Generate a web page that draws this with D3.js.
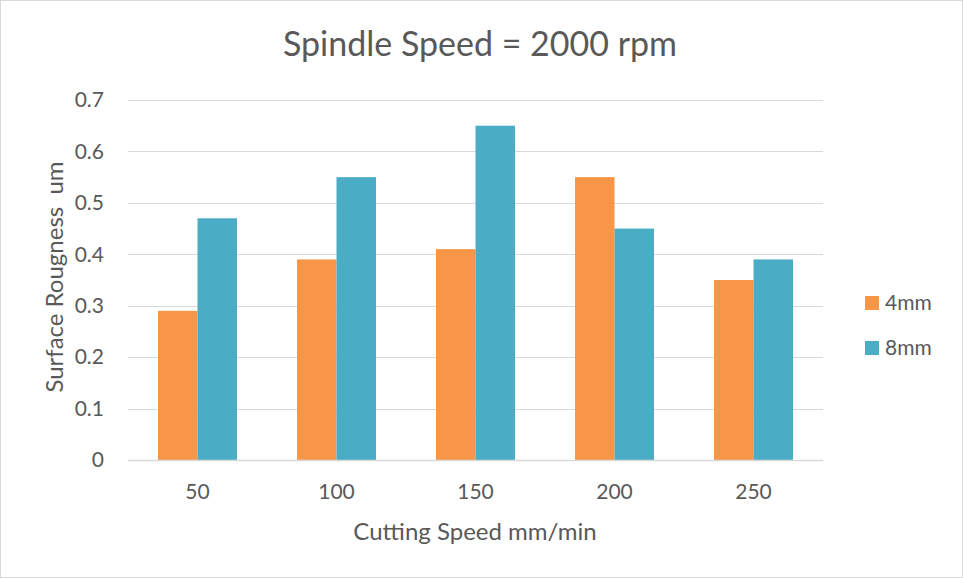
<!DOCTYPE html>
<html>
<head>
<meta charset="utf-8">
<script src="https://cdn.jsdelivr.net/npm/d3@7"></script>
<style>
  body { margin: 0; background: #fff; }
  svg text { font-family: Lato, "Open Sans", sans-serif; fill: #595959; }
</style>
</head>
<body>
<svg id="chart" width="963" height="578"></svg>
<script>
const categories = ["50", "100", "150", "200", "250"];
const seriesNames = ["4mm", "8mm"];
const values4mm = [0.29, 0.39, 0.41, 0.55, 0.35];
const values8mm = [0.47, 0.55, 0.65, 0.45, 0.39];
const yTicks = [0, 0.1, 0.2, 0.3, 0.4, 0.5, 0.6, 0.7];
const colors = ["#F79646", "#4BACC6"];

const svg = d3.select("#chart");
const margin = {top: 100, left: 128, right: 140, bottom: 118};
const width = 963, height = 578;

svg.append("rect")
    .attr("x", 0.5).attr("y", 0.5)
    .attr("width", width - 1).attr("height", height - 1)
    .attr("fill", "#fff")
    .attr("stroke", "#d9d9d9");

const x = d3.scaleBand()
    .domain(categories)
    .range([margin.left, width - margin.right])
    .paddingInner(0.4318)
    .paddingOuter(0.2159);

const x1 = d3.scaleBand()
    .domain(seriesNames)
    .range([0, x.bandwidth()]);

const y = d3.scaleLinear()
    .domain([0, 0.7])
    .range([height - margin.bottom, margin.top]);

// gridlines
svg.append("g")
    .selectAll("line")
    .data(yTicks.slice(1))
    .join("line")
    .attr("x1", margin.left)
    .attr("x2", width - margin.right)
    .attr("y1", d => Math.round(y(d)) + 0.5)
    .attr("y2", d => Math.round(y(d)) + 0.5)
    .attr("stroke", "#d9d9d9")
    .attr("stroke-width", 1);

const rows = categories.map((c, i) => ({cat: c, vals: [values4mm[i], values8mm[i]]}));

const groups = svg.append("g")
    .selectAll("g")
    .data(rows)
    .join("g")
    .attr("transform", d => `translate(${x(d.cat)},0)`);

groups.selectAll("rect")
    .data(d => d.vals.map((v, i) => ({key: seriesNames[i], v, i})))
    .join("rect")
    .attr("x", d => x1(d.key))
    .attr("width", x1.bandwidth())
    .attr("y", d => y(d.v))
    .attr("height", d => y(0) - y(d.v))
    .attr("fill", d => colors[d.i]);

// x axis line
svg.append("line")
    .attr("x1", margin.left)
    .attr("x2", width - margin.right)
    .attr("y1", Math.round(y(0)) + 0.5)
    .attr("y2", Math.round(y(0)) + 0.5)
    .attr("stroke", "#d9d9d9")
    .attr("stroke-width", 1.5);

// y tick labels
svg.append("g")
    .selectAll("text")
    .data(yTicks)
    .join("text")
    .attr("x", 104)
    .attr("y", d => y(d))
    .attr("dy", "0.35em")
    .attr("text-anchor", "end")
    .style("font-size", "21px")
    .text(d => d === 0 ? "0" : d3.format(".1f")(d));

// x tick labels
svg.append("g")
    .selectAll("text")
    .data(categories)
    .join("text")
    .attr("x", d => x(d) + x.bandwidth() / 2)
    .attr("y", 499)
    .attr("text-anchor", "middle")
    .style("font-size", "21px")
    .text(d => d);

// title
svg.append("text")
    .attr("x", 480)
    .attr("y", 56)
    .attr("text-anchor", "middle")
    .style("font-size", "34px")
    .text("Spindle Speed = 2000 rpm");

// axis titles
svg.append("text")
    .attr("x", 475)
    .attr("y", 540)
    .attr("text-anchor", "middle")
    .style("font-size", "24px")
    .text("Cutting Speed mm/min");

svg.append("text")
    .attr("transform", "translate(63,277) rotate(-90)")
    .attr("text-anchor", "middle")
    .style("font-size", "24px")
    .text("Surface Rougness\u00a0\u00a0um");

// legend
const legend = svg.append("g")
    .selectAll("g")
    .data(seriesNames)
    .join("g")
    .attr("transform", (d, i) => `translate(865,${303 + i * 45})`);

legend.append("rect")
    .attr("x", 0).attr("y", -7)
    .attr("width", 14).attr("height", 14)
    .attr("fill", (d, i) => colors[i]);

legend.append("text")
    .attr("x", 20)
    .attr("dy", "0.35em")
    .style("font-size", "21px")
    .text(d => d);
</script>
</body>
</html>
